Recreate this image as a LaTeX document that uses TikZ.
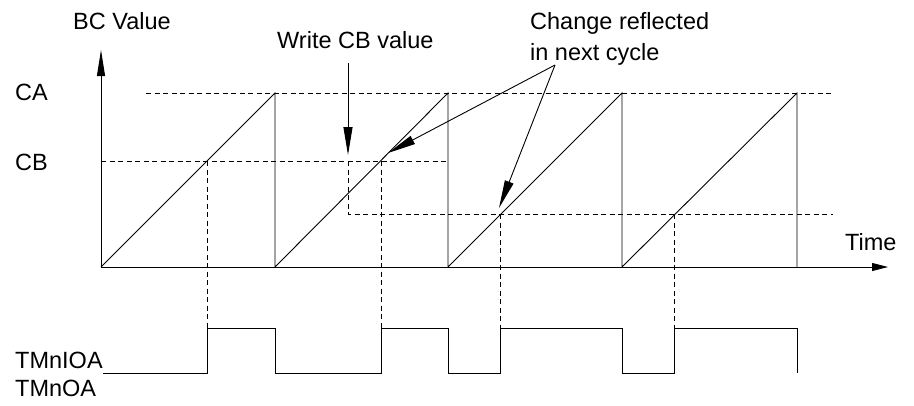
\documentclass[tikz,border=0pt]{standalone}
\usepackage{fontspec}
\setmainfont{Liberation Sans}
\usetikzlibrary{arrows.meta, positioning}

\begin{document}
\begin{tikzpicture}[
    x=1pt, y=-1pt,
    lbl/.style={anchor=base west, inner sep=0pt, font=\fontsize{23.5}{27}\selectfont},
    wave/.style={line width=0.9pt, line join=miter},
    guide/.style={line width=0.8pt, dash pattern=on 5pt off 3.5pt},
    axis/.style={line width=0.9pt, -{Triangle[length=#1, width=8pt]}},
    pointer/.style={line width=0.9pt, -{Triangle[length=28pt, width=9pt]}}
  ]
  \useasboundingbox (0,0) rectangle (914,405);

  % Labels
  \node[lbl] (bcval) at (73,29) {BC Value};
  \node[lbl] (ca) at (15,100) {CA};
  \node[lbl] (cb) at (15,170) {CB};
  \node[lbl] (write) at (277,48) {Write CB value};
  \node[lbl] (change) at (530,29) {Change reflected};
  \node[lbl] (nextcyc) at (530,60) {in next cycle};
  \node[lbl] (time) at (845,250) {Time};
  \node[lbl] (tmnioa) at (15,368) {TMnIOA};
  \node[lbl] (tmnoa) at (15,396) {TMnOA};

  % Axes
  \coordinate (origin) at (101,267);
  \coordinate (ytip) at (101,50);
  \coordinate (xtip) at (888,267);
  \draw[axis=26pt] (origin) -- (ytip);
  \draw[axis=16pt] (origin) -- (xtip);

  % Compare levels
  \draw[guide] (146,93) -- (833,93);
  \draw[guide] (101,161) -- (448,161);
  \draw[guide] (348,161) -- (348,214) -- (833,214);

  % Counter sawtooth
  \draw[wave] (origin) -- (275,93) -- (275,267) -- (448,93) -- (448,267)
    -- (622,93) -- (622,267) -- (797,93) -- (797,267);

  % Match lines
  \draw[guide] (207,161) -- (207,328);
  \draw[guide] (381,161) -- (381,328);
  \draw[guide] (500,214) -- (500,328);
  \draw[guide] (674,214) -- (674,328);

  % Output signal
  \draw[wave] (103,373) -- (207,373) -- (207,328) -- (275,328) -- (275,373)
    -- (381,373) -- (381,328) -- (448,328) -- (448,373) -- (500,373)
    -- (500,328) -- (622,328) -- (622,373) -- (674,373) -- (674,328)
    -- (797,328) -- (797,373);

  % Pointers
  \coordinate (writefrom) at (348,63);
  \coordinate (writeto) at (348,155);
  \coordinate (chgfrom) at (555,65);
  \coordinate (chgto1) at (388,153);
  \coordinate (chgto2) at (499,208);
  \draw[pointer] (writefrom) -- (writeto);
  \draw[pointer] (chgfrom) -- (chgto1);
  \draw[pointer] (chgfrom) -- (chgto2);

\end{tikzpicture}
\end{document}
